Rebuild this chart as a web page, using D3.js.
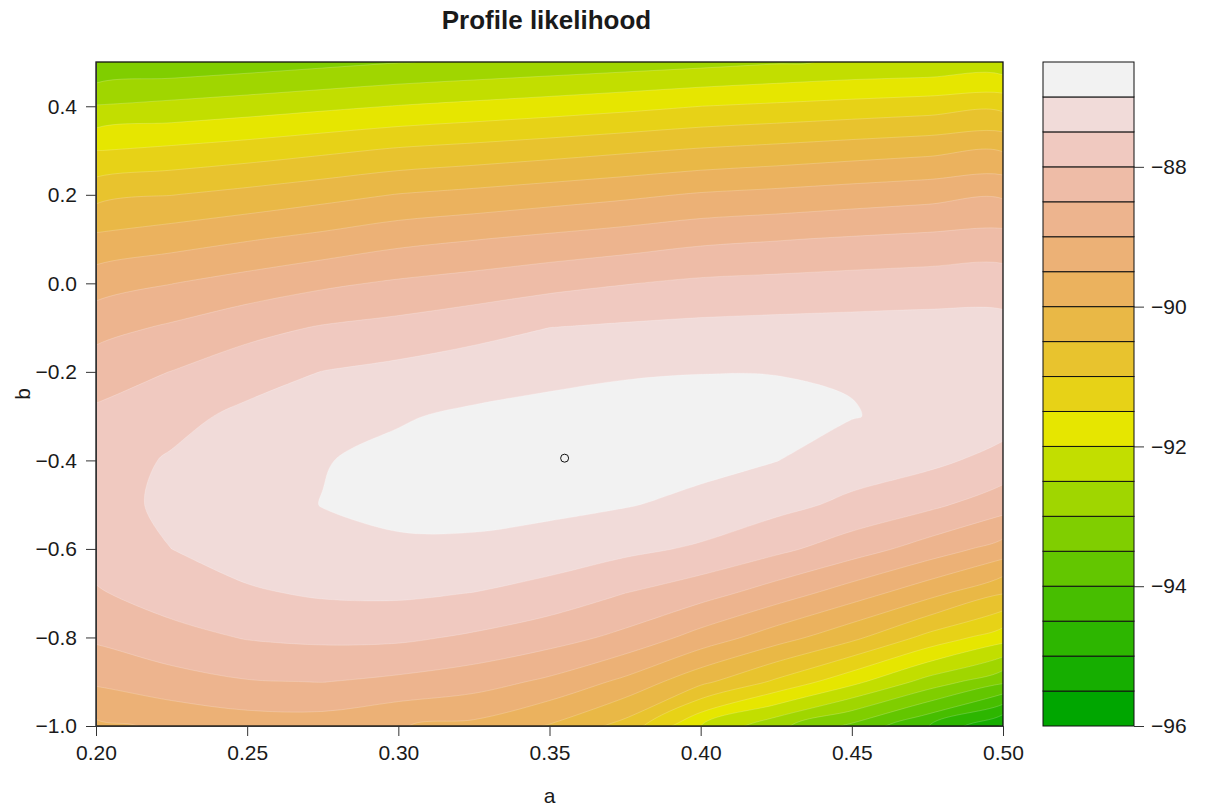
<!DOCTYPE html>
<html>
<head>
<meta charset="utf-8">
<script src="https://cdn.jsdelivr.net/npm/d3@7"></script>
<style>
  body { margin: 0; background: #fff; }
  svg text { font-family: "Liberation Sans", Arial, Helvetica, sans-serif; fill: #1a1a1a; }
</style>
</head>
<body>
<div id="chart"></div>
<script>
// grid of the profile log-likelihood
const aVals = [0.200, 0.225, 0.250, 0.275, 0.300, 0.325, 0.350, 0.375, 0.400, 0.425, 0.450, 0.475, 0.500];
const bVals = [0.5, 0.4, 0.3, 0.2, 0.1, 0.0, -0.1, -0.2, -0.3, -0.4, -0.5, -0.6, -0.7, -0.8, -0.9, -1.0];
const logLik = [
  [-93.48, -93.37, -93.26, -93.14, -93.02, -92.93, -92.84, -92.75, -92.66, -92.55, -92.45, -92.41, -92.35],
  [-92.47, -92.36, -92.24, -92.11, -91.98, -91.87, -91.76, -91.64, -91.50, -91.41, -91.32, -91.23, -91.14],
  [-91.51, -91.39, -91.26, -91.10, -90.93, -90.82, -90.70, -90.57, -90.44, -90.34, -90.23, -90.13, -90.03],
  [-90.66, -90.51, -90.35, -90.17, -89.98, -89.86, -89.73, -89.60, -89.45, -89.36, -89.26, -89.17, -89.07],
  [-89.89, -89.72, -89.54, -89.36, -89.15, -89.02, -88.89, -88.76, -88.61, -88.53, -88.45, -88.38, -88.32],
  [-89.22, -89.01, -88.80, -88.59, -88.43, -88.30, -88.15, -88.02, -87.91, -87.86, -87.81, -87.77, -87.74],
  [-88.67, -88.43, -88.16, -87.96, -87.84, -87.68, -87.50, -87.43, -87.38, -87.35, -87.33, -87.31, -87.33],
  [-88.24, -87.99, -87.72, -87.49, -87.37, -87.23, -87.12, -87.04, -87.01, -87.01, -87.03, -87.11, -87.19],
  [-87.90, -87.65, -87.38, -87.18, -87.04, -86.92, -86.85, -86.82, -86.83, -86.89, -86.98, -87.13, -87.29],
  [-87.72, -87.45, -87.20, -87.02, -86.89, -86.80, -86.79, -86.80, -86.86, -86.99, -87.24, -87.38, -87.66],
  [-87.68, -87.40, -87.17, -86.99, -86.89, -86.85, -86.89, -86.97, -87.12, -87.35, -87.61, -87.88, -88.28],
  [-87.79, -87.50, -87.28, -87.12, -87.07, -87.09, -87.19, -87.38, -87.57, -87.88, -88.26, -88.71, -89.21],
  [-88.05, -87.76, -87.56, -87.44, -87.42, -87.51, -87.70, -88.00, -88.30, -88.74, -89.25, -89.82, -90.48],
  [-88.42, -88.17, -87.97, -87.90, -87.91, -88.07, -88.29, -88.63, -89.19, -89.77, -90.37, -91.14, -91.79],
  [-88.93, -88.69, -88.53, -88.49, -88.61, -88.78, -89.10, -89.62, -90.37, -91.09, -91.85, -92.68, -93.41],
  [-89.60, -89.42, -89.26, -89.25, -89.48, -89.62, -90.04, -90.68, -92.00, -92.86, -93.61, -94.48, -95.55]
];
const levels = [-96, -95.5, -95, -94.5, -94, -93.5, -93, -92.5, -92, -91.5, -91, -90.5,
                -90, -89.5, -89, -88.5, -88, -87.5, -87, -86.5];
const peakA = [0.355];
const peakB = [-0.395];
const xTicks = [0.20, 0.25, 0.30, 0.35, 0.40, 0.45, 0.50];
const yTicks = [-1.0, -0.8, -0.6, -0.4, -0.2, 0.0, 0.2, 0.4];
const legendTicks = [-96, -94, -92, -90, -88];

// R terrain.colors(n)
function terrainColors(n) {
  const hsv = (h, s, v) => {
    const i = Math.floor(h * 6) % 6, f = h * 6 - Math.floor(h * 6);
    const p = v * (1 - s), q = v * (1 - f * s), t = v * (1 - (1 - f) * s);
    const rgb = [[v, t, p], [q, v, p], [p, v, t], [p, q, v], [t, p, v], [v, p, q]][i];
    return d3.rgb(rgb[0] * 255, rgb[1] * 255, rgb[2] * 255).formatHex();
  };
  const k = Math.floor(n / 2);
  const out = [];
  for (let j = 0; j < k; j++) {
    const f = k > 1 ? j / (k - 1) : 0;
    out.push(hsv(4 / 12 + (2 / 12 - 4 / 12) * f, 1, 0.65 + 0.25 * f));
  }
  const m = n - k + 1;
  for (let j = 1; j < m; j++) {
    const f = j / (m - 1);
    out.push(hsv(2 / 12 * (1 - f), 1 - f, 0.9 + 0.05 * f));
  }
  return out;
}
const bandColors = terrainColors(levels.length - 1);

const W = 1211, H = 807;
const plot = { left: 96, right: 1003, top: 62, bottom: 726 };
const leg = { left: 1043, right: 1134 };

const svg = d3.select("#chart").append("svg")
  .attr("width", W)
  .attr("height", H);

const x = d3.scaleLinear().domain([0.2, 0.5]).range([plot.left, plot.right]);
const y = d3.scaleLinear().domain([-1.0, 0.5]).range([plot.bottom, plot.top]);

svg.append("clipPath").attr("id", "plotClip")
  .append("rect")
  .attr("x", plot.left).attr("y", plot.top)
  .attr("width", plot.right - plot.left).attr("height", plot.bottom - plot.top);

const nx = aVals.length, ny = bVals.length;
const da = aVals[1] - aVals[0], db = bVals[0] - bVals[1];
const contours = d3.contours()
  .size([nx, ny])
  .thresholds(levels.slice(0, -1))(logLik.flat());

// grid value i sits at contour coordinate i + 0.5
const toPx = p => [x(aVals[0] + (p[0] - 0.5) * da), y(bVals[0] - (p[1] - 0.5) * db)];
const ringLine = d3.line().curve(d3.curveCatmullRomClosed.alpha(0.5));
function smoothPath(geom) {
  return geom.coordinates.map(poly =>
    poly.map(ring => ringLine(ring.slice(0, -1).map(toPx))).join("")
  ).join("");
}

svg.append("g")
  .attr("clip-path", "url(#plotClip)")
  .selectAll("path")
  .data(contours)
  .enter()
  .append("path")
  .attr("d", smoothPath)
  .attr("fill-rule", "evenodd")
  .attr("fill", (d, i) => bandColors[i])
  .attr("stroke", "rgba(255,255,255,0.28)")
  .attr("stroke-width", 0.7);

// maximum
svg.selectAll("circle.peak")
  .data(peakA.map((a, i) => [a, peakB[i]]))
  .enter()
  .append("circle")
  .attr("class", "peak")
  .attr("cx", d => x(d[0]))
  .attr("cy", d => y(d[1]))
  .attr("r", 4)
  .attr("fill", "none")
  .attr("stroke", "#111")
  .attr("stroke-width", 1);

svg.append("rect")
  .attr("x", plot.left).attr("y", plot.top)
  .attr("width", plot.right - plot.left).attr("height", plot.bottom - plot.top)
  .attr("fill", "none")
  .attr("stroke", "#111")
  .attr("stroke-width", 1.3);

const xAxis = svg.append("g")
  .attr("transform", `translate(0,${plot.bottom})`)
  .call(d3.axisBottom(x).tickValues(xTicks).tickFormat(d3.format(".2f"))
    .tickSize(10).tickSizeOuter(0).tickPadding(9));

const yAxis = svg.append("g")
  .attr("transform", `translate(${plot.left},0)`)
  .call(d3.axisLeft(y).tickValues(yTicks).tickFormat(d3.format(".1f"))
    .tickSize(10).tickSizeOuter(0).tickPadding(9));

[xAxis, yAxis].forEach(g => {
  g.selectAll("text").style("font-size", "21px").attr("fill", "#1a1a1a");
  g.selectAll("line, path").attr("stroke", "#333");
});

// legend bar
const yLeg = d3.scaleLinear().domain([levels[0], levels[levels.length - 1]]).range([plot.bottom, plot.top]);

svg.append("g")
  .selectAll("rect")
  .data(bandColors)
  .enter()
  .append("rect")
  .attr("x", leg.left)
  .attr("width", leg.right - leg.left)
  .attr("y", (d, i) => yLeg(levels[i + 1]))
  .attr("height", (d, i) => yLeg(levels[i]) - yLeg(levels[i + 1]))
  .attr("fill", d => d)
  .attr("stroke", "#111")
  .attr("stroke-width", 1);

const legAxis = svg.append("g")
  .attr("transform", `translate(${leg.right},0)`)
  .call(d3.axisRight(yLeg).tickValues(legendTicks).tickFormat(d3.format("d"))
    .tickSize(10).tickSizeOuter(0).tickPadding(7));
legAxis.select(".domain").remove();
legAxis.selectAll("text").style("font-size", "21px").attr("fill", "#1a1a1a");
legAxis.selectAll("line").attr("stroke", "#333");

svg.append("text")
  .attr("x", (plot.left + plot.right) / 2 - 3)
  .attr("y", 29)
  .attr("text-anchor", "middle")
  .style("font-size", "26px")
  .style("font-weight", "bold")
  .text("Profile likelihood");

svg.append("text")
  .attr("x", (plot.left + plot.right) / 2)
  .attr("y", 803)
  .attr("text-anchor", "middle")
  .style("font-size", "21px")
  .text("a");

svg.append("text")
  .attr("transform", `translate(30,${(plot.top + plot.bottom) / 2}) rotate(-90)`)
  .attr("text-anchor", "middle")
  .style("font-size", "21px")
  .text("b");
</script>
</body>
</html>
